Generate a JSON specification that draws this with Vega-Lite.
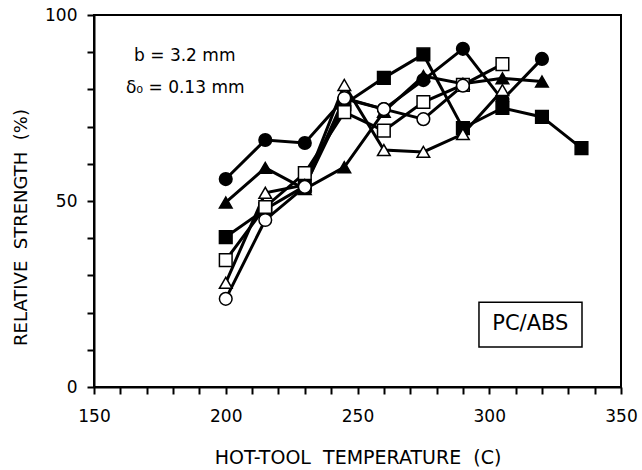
{
  "$schema": "https://vega.github.io/schema/vega-lite/v6.json",
  "width": 527,
  "height": 372,
  "autosize": {"type": "none"},
  "padding": {"left": 94, "top": 15, "right": 21, "bottom": 83},
  "background": "white",
  "config": {
    "view": {"stroke": "black", "strokeWidth": 2},
    "font": "DejaVu Sans",
    "axis": {"grid": false}
  },
  "resolve": {"axis": {"x": "independent", "y": "independent"}},
  "datasets": {
    "series": [
      {"series": "FC", "t": 200, "s": 55.9}, {"series": "FC", "t": 215, "s": 66.4}, {"series": "FC", "t": 230, "s": 65.6},
      {"series": "FC", "t": 245, "s": 77.5}, {"series": "FC", "t": 260, "s": 74.7}, {"series": "FC", "t": 275, "s": 82.5},
      {"series": "FC", "t": 290, "s": 90.9}, {"series": "FC", "t": 305, "s": 77.2}, {"series": "FC", "t": 320, "s": 88.2},
      {"series": "FT", "t": 200, "s": 49.6}, {"series": "FT", "t": 215, "s": 58.9}, {"series": "FT", "t": 230, "s": 53.2},
      {"series": "FT", "t": 245, "s": 59.1}, {"series": "FT", "t": 260, "s": 74.0}, {"series": "FT", "t": 275, "s": 83.6},
      {"series": "FT", "t": 290, "s": 81.5}, {"series": "FT", "t": 305, "s": 83.0}, {"series": "FT", "t": 320, "s": 82.1},
      {"series": "FS", "t": 200, "s": 40.3}, {"series": "FS", "t": 215, "s": 47.8}, {"series": "FS", "t": 230, "s": 54.0},
      {"series": "FS", "t": 245, "s": 76.0}, {"series": "FS", "t": 260, "s": 83.1}, {"series": "FS", "t": 275, "s": 89.4},
      {"series": "FS", "t": 290, "s": 69.6}, {"series": "FS", "t": 305, "s": 75.0}, {"series": "FS", "t": 320, "s": 72.6},
      {"series": "FS", "t": 335, "s": 64.2},
      {"series": "OS", "t": 200, "s": 34.1}, {"series": "OS", "t": 215, "s": 48.4}, {"series": "OS", "t": 230, "s": 57.5},
      {"series": "OS", "t": 245, "s": 73.9}, {"series": "OS", "t": 260, "s": 68.9}, {"series": "OS", "t": 275, "s": 76.6},
      {"series": "OS", "t": 290, "s": 81.2}, {"series": "OS", "t": 305, "s": 86.8},
      {"series": "OT", "t": 200, "s": 28.0}, {"series": "OT", "t": 215, "s": 52.2}, {"series": "OT", "t": 230, "s": 54.3},
      {"series": "OT", "t": 245, "s": 81.2}, {"series": "OT", "t": 260, "s": 63.7}, {"series": "OT", "t": 275, "s": 63.2},
      {"series": "OT", "t": 290, "s": 68.0}, {"series": "OT", "t": 305, "s": 79.8},
      {"series": "OC", "t": 200, "s": 23.7}, {"series": "OC", "t": 215, "s": 44.9}, {"series": "OC", "t": 230, "s": 53.8},
      {"series": "OC", "t": 245, "s": 77.7}, {"series": "OC", "t": 260, "s": 74.7}, {"series": "OC", "t": 275, "s": 72.0},
      {"series": "OC", "t": 290, "s": 81.0}
    ]
  },
  "layer": [
    {
      "data": {"name": "series"},
      "mark": {"type": "line", "color": "black"},
      "encoding": {
        "x": {
          "field": "t", "type": "quantitative",
          "scale": {"domain": [150, 350], "nice": false, "zero": false},
          "axis": {
            "orient": "bottom",
            "values": [160,170,180,190,210,220,230,240,260,270,280,290,310,320,330,340],
            "labels": false, "title": null, "domain": false,
            "tickSize": 7, "tickWidth": 2, "tickColor": "black"
          }
        },
        "y": {
          "field": "s", "type": "quantitative",
          "scale": {"domain": [0, 100], "nice": false},
          "axis": {
            "orient": "left",
            "values": [10,20,30,40,60,70,80,90],
            "labels": false, "title": null, "domain": false,
            "tickSize": 7, "tickWidth": 2, "tickColor": "black"
          }
        },
        "detail": {"field": "series"},
        "strokeWidth": {
          "field": "series", "type": "nominal",
          "scale": {"domain": ["FC","FT","FS","OS","OT","OC"], "range": [3,3,3,1.4,1.4,1.4]},
          "legend": null
        }
      }
    },
    {
      "data": {"name": "series"},
      "mark": {"type": "point", "filled": true, "stroke": "black", "strokeWidth": 1.5, "opacity": 1, "size": 160},
      "encoding": {
        "x": {
          "field": "t", "type": "quantitative",
          "axis": {
            "orient": "bottom",
            "values": [150, 200, 250, 300, 350],
            "labelOverlap": false, "labelFlush": false,
            "tickSize": 7, "tickWidth": 2, "tickColor": "black",
            "domainColor": "black", "domainWidth": 2,
            "labelFontSize": 17, "labelColor": "black", "labelPadding": 14,
            "title": "HOT-TOOL\u00a0 TEMPERATURE\u00a0 (C)",
            "titleFontSize": 19, "titleFontWeight": "normal", "titleColor": "black",
            "titleBaseline": "top", "titleY": 61
          }
        },
        "y": {
          "field": "s", "type": "quantitative",
          "axis": {
            "orient": "left",
            "values": [0, 50, 100],
            "labelOverlap": false, "labelFlush": false,
            "tickSize": 7, "tickWidth": 2, "tickColor": "black",
            "domainColor": "black", "domainWidth": 2,
            "labelFontSize": 17, "labelColor": "black", "labelPadding": 10,
            "title": "RELATIVE\u00a0 STRENGTH\u00a0 (%)",
            "titleFontSize": 18, "titleFontWeight": "normal", "titleColor": "black",
            "titleAngle": -90, "titleAlign": "center", "titleBaseline": "middle",
            "titleX": -73, "titleY": 212
          }
        },
        "shape": {
          "field": "series", "type": "nominal",
          "scale": {"domain": ["FC","FT","FS","OS","OT","OC"], "range": ["circle","triangle-up","square","square","triangle-up","circle"]},
          "legend": null
        },
        "fill": {
          "field": "series", "type": "nominal",
          "scale": {"domain": ["FC","FT","FS","OS","OT","OC"], "range": ["black","black","black","white","white","white"]},
          "legend": null
        }
      }
    },
    {
      "data": {"values": [{}]},
      "mark": {"type": "rect", "fill": "white", "stroke": "black", "strokeWidth": 1.5},
      "encoding": {
        "x": {"datum": 296.1, "type": "quantitative", "axis": null},
        "x2": {"datum": 335.2},
        "y": {"datum": 22.8, "type": "quantitative", "axis": null},
        "y2": {"datum": 10.75}
      }
    },
    {
      "data": {"values": [{}]},
      "mark": {"type": "text", "fontSize": 21, "align": "center", "baseline": "middle", "color": "black", "font": "DejaVu Sans"},
      "encoding": {
        "x": {"datum": 315.6, "type": "quantitative", "axis": null},
        "y": {"datum": 16.9, "type": "quantitative", "axis": null},
        "text": {"value": "PC/ABS"}
      }
    },
    {
      "data": {"values": [{}]},
      "mark": {"type": "text", "fontSize": 17, "align": "left", "baseline": "alphabetic", "color": "black", "font": "DejaVu Sans"},
      "encoding": {
        "x": {"datum": 165.2, "type": "quantitative", "axis": null},
        "y": {"datum": 87.7, "type": "quantitative", "axis": null},
        "text": {"value": "b = 3.2 mm"}
      }
    },
    {
      "data": {"values": [{}]},
      "mark": {"type": "text", "fontSize": 17, "align": "left", "baseline": "alphabetic", "color": "black", "font": "DejaVu Sans"},
      "encoding": {
        "x": {"datum": 162.1, "type": "quantitative", "axis": null},
        "y": {"datum": 79.0, "type": "quantitative", "axis": null},
        "text": {"value": "δ₀ = 0.13 mm"}
      }
    }
  ]
}
